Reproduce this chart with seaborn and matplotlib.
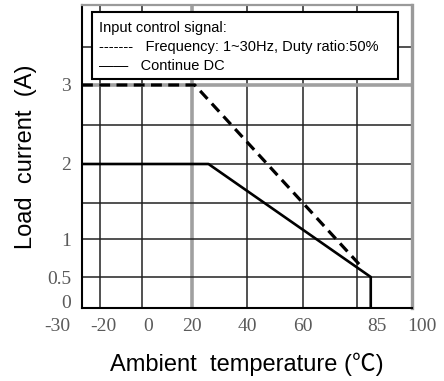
import numpy as np
import pandas as pd
import seaborn as sns
import matplotlib
matplotlib.use("Agg")
import matplotlib.pyplot as plt
from matplotlib.patches import Rectangle
from matplotlib.transforms import ScaledTranslation

# ---- data ----
solid_temp = [-30, 26, 85, 85]
solid_current = [2, 2, 0.5, 0]
dashed_temp = [-30, 21, 82]
dashed_current = [3, 3, 0.62]

x_tick_values = [-30, -20, 0, 20, 40, 60, 85, 100]
x_tick_labels = ["-30", "-20", "0", "20", "40", "60", "85", "100"]
y_tick_values = [0, 0.5, 1, 2, 3]
y_tick_labels = ["0", "0.5", "1", "2", "3"]
x_grid = [-20, 0, 20, 40, 60, 80]
y_grid = [0.5, 1, 1.5, 2, 2.5, 3, 3.5]
x_grid_bold = [20]
y_grid_bold = [3]

legend_lines = ["Input control signal:",
                "-------   Frequency: 1~30Hz, Duty ratio:50%",
                "——   Continue DC"]
xlabel = "Ambient  temperature (℃)"
ylabel = "Load  current  (A)"

# scale calibration of the (hand-drawn) grid
x_knots = [-30, -20, 0, 20, 40, 60, 80, 100]
x_knot_pos = [0, 18, 60, 110, 165, 221, 275, 330]
y_knots = [0, 0.5, 1, 1.5, 2, 2.5, 3, 3.5, 4]
y_knot_pos = [0, 31, 69, 105, 144, 183, 223, 261, 303]

sns.set_theme(style="white")
plt.rcParams["font.family"] = ["Liberation Sans", "Noto Sans CJK SC", "DejaVu Sans"]

fig = plt.figure(figsize=(4.44, 3.81), dpi=100)
ax = fig.add_axes([82 / 444, 73 / 381, 330 / 444, 303 / 381])

ax.set_xscale("function", functions=(lambda v: np.interp(v, x_knots, x_knot_pos),
                                     lambda p: np.interp(p, x_knot_pos, x_knots)))
ax.set_yscale("function", functions=(lambda v: np.interp(v, y_knots, y_knot_pos),
                                     lambda p: np.interp(p, y_knot_pos, y_knots)))

# grid
for g in x_grid:
    if g in x_grid_bold:
        ax.axvline(g, color="#a0a0a0", lw=2.6, zorder=1)
    else:
        ax.axvline(g, color="#222222", lw=1.1, zorder=1)
for g in y_grid:
    if g in y_grid_bold:
        ax.axhline(g, color="#a0a0a0", lw=2.6, zorder=1)
    else:
        ax.axhline(g, color="#222222", lw=1.1, zorder=1)

df_solid = pd.DataFrame({"temp": solid_temp, "current": solid_current})
df_dashed = pd.DataFrame({"temp": dashed_temp, "current": dashed_current})
sns.lineplot(data=df_solid, x="temp", y="current", sort=False, estimator=None,
             color="black", lw=1.9, ax=ax, zorder=3)
sns.lineplot(data=df_dashed, x="temp", y="current", sort=False, estimator=None,
             color="black", lw=2.3, linestyle=(0, (3.4, 2.0)), ax=ax, zorder=3)

ax.set_xlim(-30, 100)
ax.set_ylim(0, 4)

ax.set_xticks(x_tick_values, x_tick_labels)
ax.set_yticks(y_tick_values, y_tick_labels)
ax.tick_params(axis="both", length=0, labelsize=14, labelcolor="#5a5a5a")
ax.tick_params(axis="x", pad=7)
ax.tick_params(axis="y", pad=8)
for lbl in ax.get_xticklabels() + ax.get_yticklabels():
    lbl.set_fontfamily("Liberation Serif")

x_shift = {"-30": -25, "-20": 3, "0": 6, "85": 6, "100": 10}
for lbl in ax.get_xticklabels():
    dx = x_shift.get(lbl.get_text(), 0)
    if dx:
        lbl.set_transform(lbl.get_transform() + ScaledTranslation(dx / 100, 0, fig.dpi_scale_trans))
y_shift = {"0": 6}
for lbl in ax.get_yticklabels():
    dy = y_shift.get(lbl.get_text(), 0)
    if dy:
        lbl.set_transform(lbl.get_transform() + ScaledTranslation(0, dy / 100, fig.dpi_scale_trans))

for side in ["left", "bottom"]:
    ax.spines[side].set_color("black")
    ax.spines[side].set_linewidth(1.5)
ax.spines["right"].set_color("#9a9a9a")
ax.spines["right"].set_linewidth(2.4)
ax.spines["top"].set_color("#9a9a9a")
ax.spines["top"].set_linewidth(1.6)

ax.set_xlabel(xlabel, fontsize=17, color="black")
ax.set_ylabel(ylabel, fontsize=17, color="black")
ax.xaxis.set_label_coords(0.5, -0.148)
ax.yaxis.set_label_coords(-0.137, 0.5)

# legend box
ax.add_patch(Rectangle((0.0303, 0.756), 0.927, 0.221, transform=ax.transAxes,
                       facecolor="white", edgecolor="black", lw=1.5, zorder=5))
for txt, yy in zip(legend_lines, [0.924, 0.861, 0.799]):
    ax.text(0.0515, yy, txt, transform=ax.transAxes, fontsize=10.5, color="black",
            va="center", ha="left", zorder=6)

fig.savefig("out.png", dpi=100)
